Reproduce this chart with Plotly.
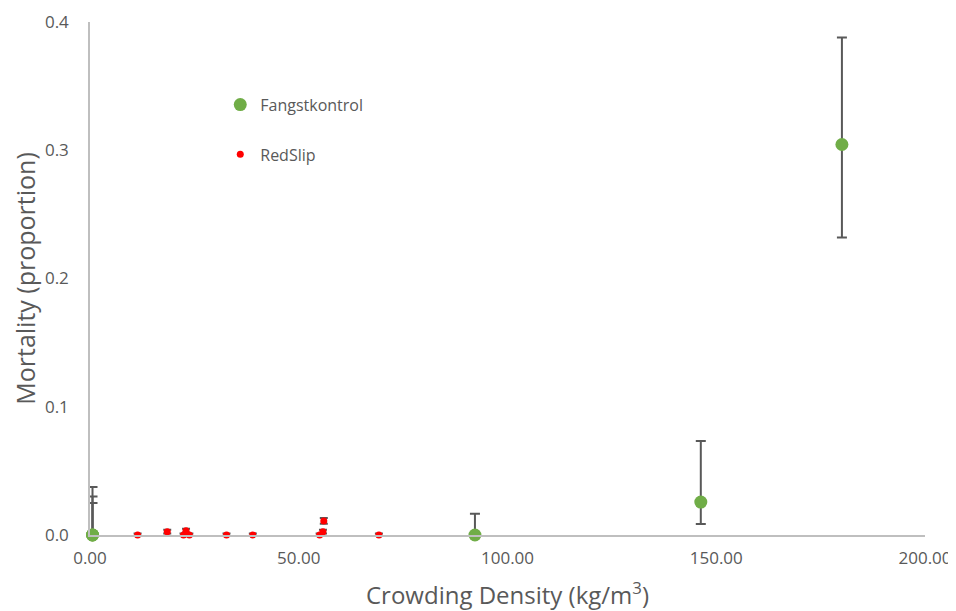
import plotly.graph_objects as go

# Fangstkontrol (green)
fk_x = [0.6, 0.6, 0.6, 92.2, 146.3, 180.1]
fk_y = [0.0, 0.0, 0.0, 0.0, 0.0257, 0.3045]
fk_err_plus = [0.0375, 0.030, 0.025, 0.0165, 0.0476, 0.0835]
fk_err_minus = [0.0, 0.0, 0.0, 0.0, 0.0171, 0.0725]

# RedSlip (red)
rs_x = [11.4, 18.5, 22.4, 23.0, 23.8, 32.7, 39.0, 55.0, 55.8, 56.0, 69.2]
rs_y = [0.0, 0.0026, 0.0, 0.0034, 0.0, 0.0, 0.0, 0.0, 0.0026, 0.011, 0.0]
rs_err = [0.0012, 0.0015, 0.0012, 0.0015, 0.0012, 0.0012, 0.0012, 0.0012, 0.0015, 0.0022, 0.0012]

x_ticks = [0, 50, 100, 150, 200]
y_ticks = [0.0, 0.1, 0.2, 0.3, 0.4]

FONT = "Open Sans, Liberation Sans, sans-serif"
err_color = "#595959"
tick_font = dict(family=FONT, size=17, color="#595959")

fig = go.Figure()
fig.add_trace(go.Scatter(
    x=fk_x, y=fk_y, mode="markers", name="Fangstkontrol",
    legendgroup="a",
    marker=dict(color="#70ad47", size=13),
    error_y=dict(type="data", symmetric=False, array=fk_err_plus, arrayminus=fk_err_minus,
                 color=err_color, thickness=2, width=5),
    cliponaxis=False,
))
fig.add_trace(go.Scatter(
    x=rs_x, y=rs_y, mode="markers", name="RedSlip",
    legendgroup="b",
    marker=dict(color="#ff0000", size=7),
    error_y=dict(type="data", array=rs_err, color=err_color, thickness=2, width=4),
    cliponaxis=False,
))

# page body adds an 8px offset; size/margins compensate so plot area sits at 90..925 x 22..535
fig.update_layout(
    width=948, height=603,
    margin=dict(l=82, r=31, t=14, b=76),
    plot_bgcolor="white", paper_bgcolor="white",
    showlegend=True,
    legend=dict(x=0.156, y=0.872, xanchor="left", yanchor="top",
                traceorder="grouped", tracegroupgap=26,
                font=dict(family=FONT, size=16, color="#595959"),
                bgcolor="rgba(0,0,0,0)", itemwidth=30),
    font=dict(family=FONT),
)
fig.update_xaxes(
    range=[0, 200], tickvals=x_ticks, tickformat=".2f",
    showgrid=False, zeroline=False, showline=True, linecolor="#bfbfbf", linewidth=1.5,
    ticks="", tickfont=tick_font, ticklabelstandoff=7, automargin=False,
    ticklabeloverflow="allow",
    title=dict(text="Crowding Density (kg/m<sup>3</sup>)",
               font=dict(family=FONT, size=24, color="#595959"),
               standoff=20),
)
fig.update_yaxes(
    range=[0, 0.4], tickvals=y_ticks, tickformat=".1f",
    showgrid=False, zeroline=False, showline=True, linecolor="#bfbfbf", linewidth=1.5,
    ticks="", tickfont=tick_font, ticklabelstandoff=16, automargin=False,
    title=dict(text="Mortality (proportion)",
               font=dict(family=FONT, size=25, color="#595959"),
               standoff=16),
)

fig.write_html("out.html")
